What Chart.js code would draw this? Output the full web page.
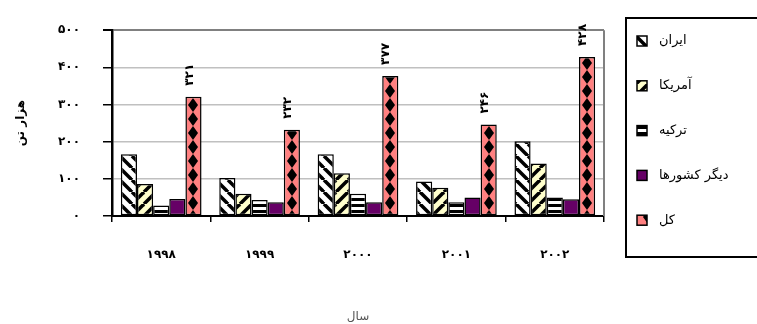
<!DOCTYPE html>
<html>
<head>
<meta charset="utf-8">
<script src="https://cdn.jsdelivr.net/npm/chart.js@4.4.0/dist/chart.umd.min.js"></script>
<style>
  body { margin: 0; background: #fff; }
</style>
</head>
<body>
<canvas id="chart_box" width="757" height="324"></canvas>
<script>
const years = ["۱۹۹۸", "۱۹۹۹", "۲۰۰۰", "۲۰۰۱", "۲۰۰۲"];
const seriesNames = ["ایران", "آمریکا", "ترکیه", "دیگر کشورها", "کل"];
const iran = [166, 102, 166, 93, 201];
const usa = [86, 60, 115, 76, 141];
const turkey = [28, 43, 60, 37, 50];
const others = [46, 37, 37, 50, 45];
const total = [321, 232, 377, 246, 428];
const yTicks = [0, 100, 200, 300, 400, 500];

const faDigits = "۰۱۲۳۴۵۶۷۸۹";
function fa(n) {
  return String(n).replace(/\d/g, d => faDigits[d]);
}

// little canvas tiles for the Excel-like fill patterns
function makePattern(w, h, bg, draw) {
  const c = document.createElement("canvas");
  c.width = w;
  c.height = h;
  const g = c.getContext("2d");
  g.fillStyle = bg;
  g.fillRect(0, 0, w, h);
  g.fillStyle = "#000";
  g.strokeStyle = "#000";
  draw(g, w, h);
  return c;
}

const tiles = [
  makePattern(12, 12, "#fff", function (g) {
    g.lineWidth = 3.5;
    for (let k = -12; k <= 12; k += 12) {
      g.beginPath(); g.moveTo(k, 0); g.lineTo(k + 12, 12); g.stroke();
    }
  }),
  makePattern(12, 12, "#ffffcc", function (g) {
    g.lineWidth = 3.5;
    for (let k = -12; k <= 12; k += 12) {
      g.beginPath(); g.moveTo(k, 12); g.lineTo(k + 12, 0); g.stroke();
    }
  }),
  makePattern(6, 6, "#fff", function (g) {
    g.fillRect(0, 0, 6, 3);
  }),
  null,
  makePattern(16, 14, "#ff8080", function (g) {
    g.beginPath();
    g.moveTo(8, 0); g.lineTo(13, 7); g.lineTo(8, 14); g.lineTo(3, 7);
    g.closePath(); g.fill();
  })
];

const cv = document.getElementById("chart_box");
const ctx0 = cv.getContext("2d");
const fills = tiles.map(t => t ? ctx0.createPattern(t, "repeat") : "#660066");
const catPct = 0.82;

// keep the diamonds centred on each total bar
function totalFill(c) {
  const xs = c.chart.scales.x;
  if (!xs || c.dataIndex === undefined) return fills[4];
  const bw = (xs.right - xs.left) / years.length * catPct / 5;
  const cx = xs.getPixelForValue(c.dataIndex) + 2 * bw;
  const p = ctx0.createPattern(tiles[4], "repeat");
  p.setTransform(new DOMMatrix().translate(Math.round(cx - 8), 0));
  return p;
}

const seriesValues = [iran, usa, turkey, others, total];

const boxPlugin = {
  id: "boxPlugin",
  afterDatasetsDraw(chart) {
    const ctx = chart.ctx;
    const a = chart.chartArea;
    // gray right frame of plot area
    ctx.save();
    ctx.strokeStyle = "#808080";
    ctx.lineWidth = 2;
    ctx.beginPath();
    ctx.moveTo(a.right, a.top);
    ctx.lineTo(a.right, a.bottom);
    ctx.stroke();
    ctx.restore();

    // value labels on the total bars
    const meta = chart.getDatasetMeta(4);
    ctx.save();
    ctx.fillStyle = "#000";
    ctx.font = "bold 12px 'DejaVu Sans'";
    ctx.textAlign = "left";
    ctx.textBaseline = "middle";
    meta.data.forEach(function (bar, i) {
      ctx.save();
      ctx.translate(bar.x - 4, bar.y - 11);
      ctx.rotate(-Math.PI / 2);
      ctx.fillText(fa(total[i]), 0, 0);
      ctx.restore();
    });
    ctx.restore();
  },
  afterDraw(chart) {
    const ctx = chart.ctx;
    ctx.save();
    ctx.strokeStyle = "#000";
    ctx.lineWidth = 2;
    ctx.strokeRect(626, 18, 140, 239);
    ctx.font = "13px 'DejaVu Sans'";
    ctx.textAlign = "left";
    ctx.textBaseline = "middle";
    chart.data.datasets.forEach(function (ds, i) {
      const y = 41 + i * 44.8;
      ctx.fillStyle = fills[i];
      ctx.fillRect(637, y - 5, 10, 10);
      ctx.lineWidth = 1.5;
      ctx.strokeRect(637, y - 5, 10, 10);
      ctx.fillStyle = "#000";
      ctx.fillText(ds.label, 659, y);
    });
    ctx.restore();
  }
};

new Chart(cv, {
  type: "bar",
  data: {
    labels: years,
    datasets: seriesNames.map(function (name, i) {
      return {
        label: name,
        data: seriesValues[i],
        backgroundColor: i === 4 ? totalFill : fills[i],
        borderColor: "#000",
        borderWidth: 1.5,
        borderSkipped: false,
        categoryPercentage: catPct,
        barPercentage: 1.0
      };
    })
  },
  options: {
    responsive: false,
    animation: false,
    layout: { padding: { top: 23, right: 153, left: 0, bottom: 0 } },
    plugins: {
      legend: { display: false },
      tooltip: { enabled: false }
    },
    scales: {
      x: {
        grid: {
          drawOnChartArea: false,
          tickColor: "#000",
          tickLength: 6,
          lineWidth: 1.5
        },
        border: { color: "#000", width: 2 },
        ticks: {
          color: "#000",
          padding: 26,
          font: { family: "'DejaVu Sans'", size: 12, weight: "bold" }
        },
        title: {
          display: true,
          text: "سال",
          color: "#555",
          padding: { top: 0, bottom: 0 },
          font: { family: "'DejaVu Sans'", size: 12 }
        },
        afterFit(scale) { scale.height = 108; }
      },
      y: {
        min: yTicks[0],
        max: yTicks[yTicks.length - 1],
        afterBuildTicks(scale) { scale.ticks = yTicks.map(v => ({ value: v })); },
        grid: {
          color: c => c.tick && c.tick.value === 500 ? "#808080" : "#c0c0c0",
          lineWidth: c => c.tick && c.tick.value === 500 ? 2 : 1.5,
          tickColor: "#000",
          tickLength: 9
        },
        border: { color: "#000", width: 2.5 },
        ticks: {
          color: "#000",
          padding: 23,
          callback: v => fa(v),
          font: { family: "'DejaVu Sans'", size: 12, weight: "bold" }
        },
        title: {
          display: true,
          text: "هزار تن",
          color: "#000",
          padding: 14,
          font: { family: "'DejaVu Sans'", size: 12, weight: "bold" }
        },
        afterFit(scale) { scale.width = 112; }
      }
    }
  },
  plugins: [boxPlugin]
});
</script>
</body>
</html>
